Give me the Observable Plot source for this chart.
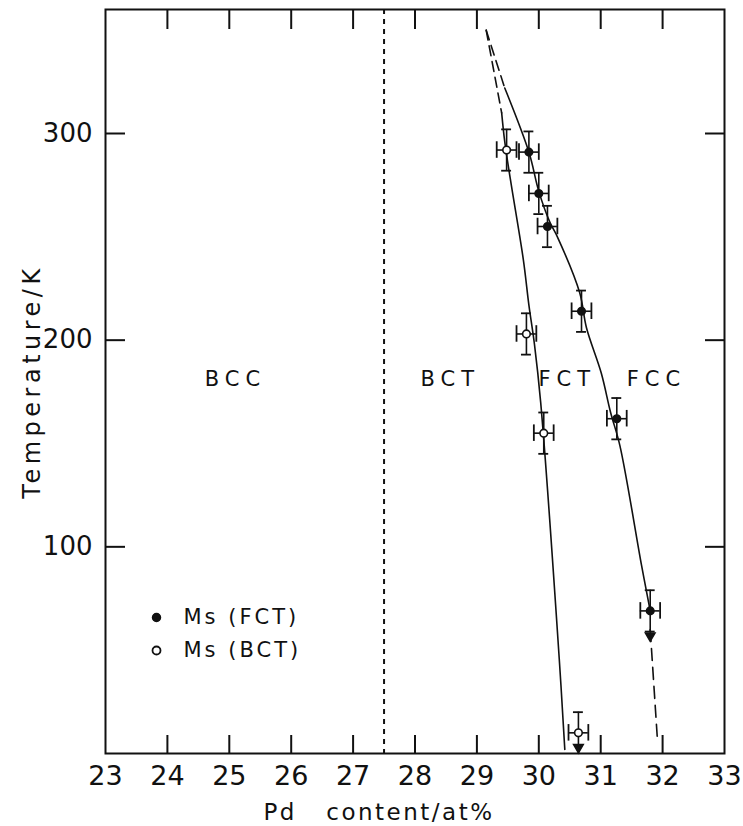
<!DOCTYPE html>
<html><head><meta charset="utf-8">
<script src="https://cdn.jsdelivr.net/npm/d3@7"></script>
<script src="https://cdn.jsdelivr.net/npm/@observablehq/plot@0.6"></script>
<style>
body{margin:0;background:#fff}
#chart svg{font-family:"DejaVu Sans","Open Sans",sans-serif;}
</style>
</head><body><div id="chart"></div>
<script>
// ---- data ----
const xTicks = [23,24,25,26,27,28,29,30,31,32,33];
const yTicks = [100,200,300];
const fctPoints = [
  {pd:29.84,t:291},{pd:30.00,t:271},{pd:30.14,t:255},
  {pd:30.69,t:214},{pd:31.26,t:162},{pd:31.80,t:69}
];
const bctPoints = [
  {pd:29.48,t:292},{pd:29.80,t:203},{pd:30.08,t:155},{pd:30.64,t:10}
];
const pdErr = 0.16;
const tErr = 10;
const fctDashTop = [{pd:29.15,t:350},{pd:29.45,t:322}];
const fctSolid = [
  {pd:29.45,t:322},{pd:29.84,t:291},{pd:30.00,t:272},{pd:30.18,t:257},
  {pd:30.30,t:250},{pd:30.66,t:223},{pd:30.77,t:206},{pd:31.01,t:184},
  {pd:31.16,t:165},{pd:31.31,t:149},{pd:31.66,t:91},{pd:31.80,t:69}
];
const fctDashBottom = [{pd:31.80,t:60},{pd:31.92,t:5}];
const bctDashTop = [{pd:29.15,t:350},{pd:29.40,t:310}];
const bctSolid = [
  {pd:29.40,t:310},{pd:29.45,t:296},{pd:29.54,t:278},{pd:29.75,t:239},
  {pd:29.84,t:217},{pd:29.93,t:198},{pd:30.03,t:170},{pd:30.33,t:46},
  {pd:30.42,t:2}
];
const arrows = [{pd:31.80,t:57},{pd:30.64,t:3}];
const boundaryPd = [27.5];
const regionLabels = [
  {pd:25.10,t:181,label:"BCC"},{pd:28.57,t:181,label:"BCT"},
  {pd:30.46,t:181,label:"FCT"},{pd:31.90,t:181,label:"FCC"}
];
const legendFCT = "Ms (FCT)";
const legendBCT = "Ms (BCT)";
const xLabel = "Pd\u00a0\u00a0\u00a0content/at%";
const yLabel = "Temperature/K";

// ---- layout ----
const W = 743, H = 826;
const mL = 105, mR = 19, mT = 9, mB = 73;
const fw = W - mL - mR, fh = H - mT - mB;
const ink = "#111";

const errMarks = (pts) => [
  Plot.ruleX(pts, {x: d=>d.pd, y1: d=>d.t-tErr, y2: d=>d.t+tErr, stroke: ink, strokeWidth: 1.6}),
  Plot.ruleY(pts, {y: d=>d.t, x1: d=>d.pd-pdErr, x2: d=>d.pd+pdErr, stroke: ink, strokeWidth: 1.6}),
  Plot.ruleY(pts, {y: d=>d.t+tErr, x1: d=>d.pd-0.08, x2: d=>d.pd+0.08, stroke: ink, strokeWidth: 1.8}),
  Plot.ruleY(pts.filter(d=>d.t-tErr>2), {y: d=>d.t-tErr, x1: d=>d.pd-0.08, x2: d=>d.pd+0.08, stroke: ink, strokeWidth: 1.8}),
  Plot.ruleX(pts, {x: d=>d.pd-pdErr, y1: d=>d.t-4, y2: d=>d.t+4, stroke: ink, strokeWidth: 1.8}),
  Plot.ruleX(pts, {x: d=>d.pd+pdErr, y1: d=>d.t-4, y2: d=>d.t+4, stroke: ink, strokeWidth: 1.8})
];

const chart = Plot.plot({
  width: W, height: H,
  marginLeft: mL, marginRight: mR, marginTop: mT, marginBottom: mB,
  x: {domain: [23, 33]},
  y: {domain: [0, 360]},
  style: {background: "white", color: ink},
  marks: [
    Plot.ruleX(boundaryPd, {x: d=>d, stroke: ink, strokeWidth: 2, strokeDasharray: "5,5"}),
    Plot.line(fctDashTop, {x:"pd", y:"t", stroke: ink, strokeWidth: 1.6, strokeDasharray: "10,6"}),
    Plot.line(fctSolid, {x:"pd", y:"t", stroke: ink, strokeWidth: 1.6, curve: "catmull-rom"}),
    Plot.line(fctDashBottom, {x:"pd", y:"t", stroke: ink, strokeWidth: 1.6, strokeDasharray: "12,7"}),
    Plot.line(bctDashTop, {x:"pd", y:"t", stroke: ink, strokeWidth: 1.6, strokeDasharray: "10,6"}),
    Plot.line(bctSolid, {x:"pd", y:"t", stroke: ink, strokeWidth: 1.6, curve: "catmull-rom"}),
    ...errMarks(fctPoints),
    ...errMarks(bctPoints),
    Plot.dot(fctPoints, {x:"pd", y:"t", r: 3.8, fill: ink, stroke: ink}),
    Plot.dot(bctPoints, {x:"pd", y:"t", r: 3.8, fill: "white", stroke: ink, strokeWidth: 1.6}),
    Plot.dot(arrows, {x:"pd", y:"t", symbol: "triangle", r: 3.6, rotate: 180, fill: ink, stroke: ink}),
    Plot.text(regionLabels, {x:"pd", y:"t", text:"label", fontSize: 21, fill: ink}),
    // legend
    Plot.dot([legendFCT], {frameAnchor: "bottom-left", dx: 51, dy: -136, r: 4, fill: ink, stroke: ink}),
    Plot.dot([legendBCT], {frameAnchor: "bottom-left", dx: 51, dy: -103, r: 4, fill: "white", stroke: ink, strokeWidth: 1.8}),
    Plot.text([legendFCT], {frameAnchor: "bottom-left", dx: 78, dy: -136, text: d=>d, textAnchor: "start", lineAnchor: "middle", fontSize: 21, fill: ink}),
    Plot.text([legendBCT], {frameAnchor: "bottom-left", dx: 78, dy: -103, text: d=>d, textAnchor: "start", lineAnchor: "middle", fontSize: 21, fill: ink}),
    // frame
    Plot.frame({stroke: ink, strokeWidth: 2}),
    // inward ticks
    Plot.ruleX(xTicks.slice(1,-1), {x: d=>d, insetTop: fh - 18, stroke: ink, strokeWidth: 2}),
    Plot.ruleX(xTicks.slice(1,-1), {x: d=>d, insetBottom: fh - 20, stroke: ink, strokeWidth: 2}),
    Plot.ruleY(yTicks, {y: d=>d, insetRight: fw - 20, stroke: ink, strokeWidth: 2}),
    Plot.ruleY(yTicks, {y: d=>d, insetLeft: fw - 19, stroke: ink, strokeWidth: 2}),
    // tick labels
    Plot.axisX({ticks: xTicks, tickSize: 0, tickPadding: 12, fontSize: 27, label: null}),
    Plot.axisY({ticks: yTicks, tickSize: 0, tickPadding: 13, fontSize: 26, label: null}),
    // axis titles
    Plot.text([xLabel], {frameAnchor: "bottom", dx: -36, dy: 59, text: d=>d, textAnchor: "middle", lineAnchor: "middle", fontSize: 23, fill: ink}),
    Plot.text([yLabel], {frameAnchor: "left", dx: -73, rotate: -90, text: d=>d, textAnchor: "middle", lineAnchor: "middle", fontSize: 24, fill: ink})
  ]
});
document.getElementById("chart").appendChild(chart);

const svg = d3.select(chart);
svg.selectAll("text").each(function(){
  const t = this.textContent;
  const s = d3.select(this);
  if (["BCC","BCT","FCT","FCC"].includes(t)) s.style("letter-spacing","6px");
  else if (t === legendFCT || t === legendBCT) s.style("letter-spacing","3px");
  else if (t === xLabel) s.style("letter-spacing","2.5px");
  else if (t === yLabel) s.style("letter-spacing","4.5px");
});
</script>
</body></html>
